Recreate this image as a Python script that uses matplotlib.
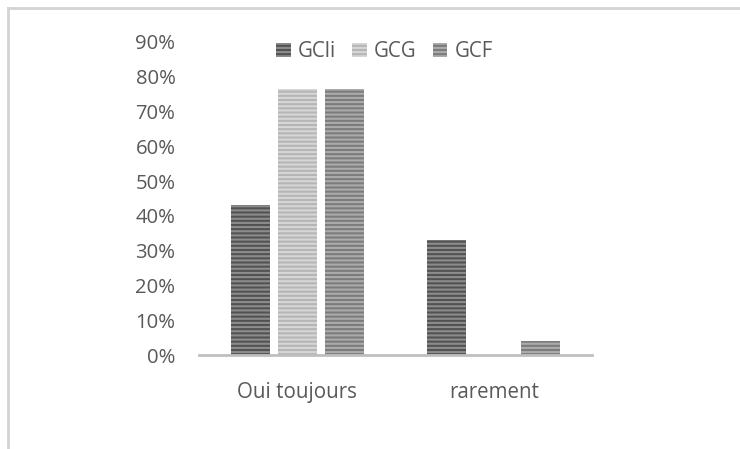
import numpy as np
import matplotlib
matplotlib.use("Agg")
import matplotlib.pyplot as plt
from matplotlib.lines import Line2D
from matplotlib.ticker import PercentFormatter

# donnees
categories = ["Oui toujours", "rarement"]
series_names = ["GCli", "GCG", "GCF"]
gcli = [0.43, 0.33]
gcg = [0.765, 0.0]
gcf = [0.765, 0.04]
y_ticks = [0.0, 0.1, 0.2, 0.3, 0.4, 0.5, 0.6, 0.7, 0.8, 0.9]

face_colors = ["#525252", "#b5b5b5", "#7c7c7c"]
stripe_colors = ["#8c8c8c", "#d6d6d6", "#ababab"]
text_color = "#595959"

plt.rcParams["font.family"] = ["Open Sans", "DejaVu Sans"]
plt.rcParams["hatch.linewidth"] = 1.5

fig = plt.figure(figsize=(7.40, 4.49), dpi=100)
ax = fig.add_axes([0.269, 0.209, 0.531, 0.698])

x = np.arange(len(categories))
width = 0.198
step = 0.239
values = [gcli, gcg, gcf]

for i, (name, vals) in enumerate(zip(series_names, values)):
    ax.bar(x + (i - 1) * step, vals, width=width, color=face_colors[i],
           edgecolor=stripe_colors[i], linewidth=0, hatch="----", label=name)

ax.set_xlim(-0.5, 1.5)
ax.set_ylim(0, 0.9)
ax.set_yticks(y_ticks)
ax.yaxis.set_major_formatter(PercentFormatter(1.0, decimals=0))
ax.set_xticks(x)
ax.set_xticklabels(categories)

for side in ["top", "right", "left"]:
    ax.spines[side].set_visible(False)
ax.spines["bottom"].set_color("#bfbfbf")
ax.spines["bottom"].set_linewidth(2)

ax.tick_params(axis="y", length=0, pad=17, labelsize=14.6, labelcolor=text_color)
ax.tick_params(axis="x", length=0, pad=19, labelsize=14.8, labelcolor=text_color)

leg = ax.legend(loc="upper center", bbox_to_anchor=(0.472, 1.06), ncol=3,
                frameon=False, fontsize=14.8, handlelength=0.7, handleheight=0.7,
                handletextpad=0.35, columnspacing=0.8, labelcolor=text_color)

# cadre partiel (haut et gauche)
fig.add_artist(Line2D([0.011, 1.0], [0.982, 0.982], color="#d3d3d3", lw=2))
fig.add_artist(Line2D([0.011, 0.011], [0.0, 0.982], color="#d3d3d3", lw=2))

fig.savefig("out.png", dpi=100)
